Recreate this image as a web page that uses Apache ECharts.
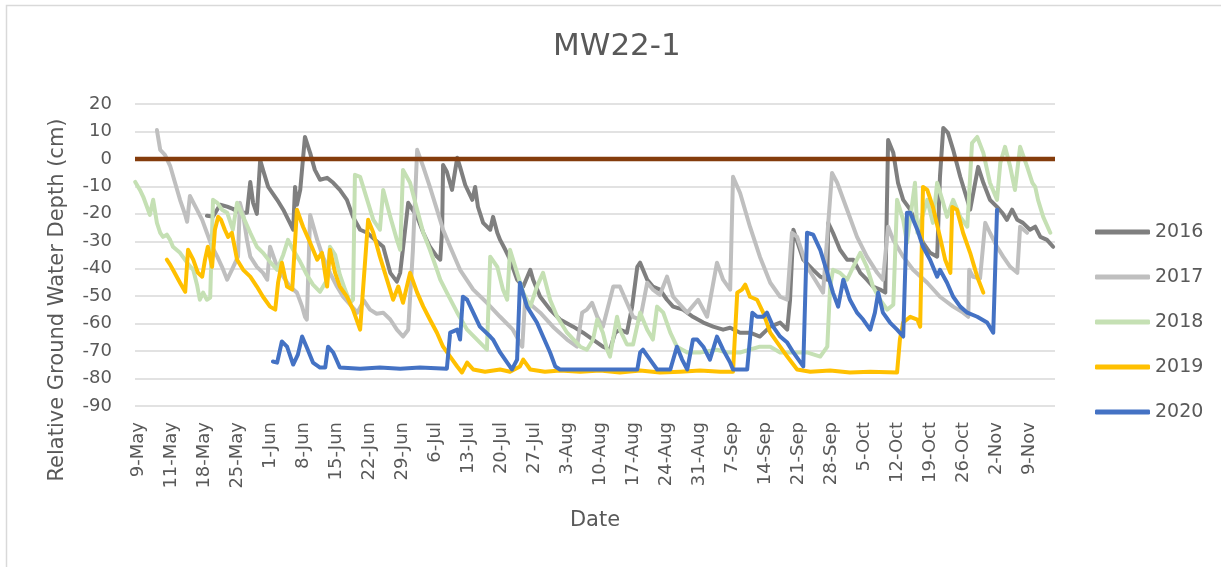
<!DOCTYPE html>
<html>
<head>
<meta charset="utf-8">
<title>MW22-1</title>
<script src="https://cdn.jsdelivr.net/npm/echarts@6/dist/echarts.min.js"></script>
<style>
  html, body { margin: 0; padding: 0; background: #ffffff; }
  #chart { width: 1221px; height: 567px; }
</style>
</head>
<body>
<div id="chart"></div>
<script>
// Weekly date labels along the x axis (one every 7 days, day 0 = first label)
const xLabels = ['9-May', '11-May', '18-May', '25-May', '1-Jun', '8-Jun', '15-Jun', '22-Jun', '29-Jun',
  '6-Jul', '13-Jul', '20-Jul', '27-Jul', '3-Aug', '10-Aug', '17-Aug', '24-Aug', '31-Aug',
  '7-Sep', '14-Sep', '21-Sep', '28-Sep', '5-Oct', '12-Oct', '19-Oct', '26-Oct', '2-Nov', '9-Nov'];

// Relative ground water depth (cm), as [day, depth] pairs
const y2016 = [[14.5,-20.7],[15.8,-21],[17.3,-16.7],[18.8,-17.4],[20,-18.2],[21.5,-19.6],[23,-19.6],[23.7,-8.4],[24.3,-16],[25.1,-20],[25.8,-0.4],[26.4,-4],[27.5,-10.2],[29.4,-14.9],[30.7,-18.5],[32.1,-23.3],[32.8,-25.8],[33.2,-10.2],[33.6,-16.7],[34.3,-11.3],[35.3,8],[36.4,2.2],[37.4,-4],[38.5,-7.6],[40,-6.9],[41.3,-8.7],[42.7,-11.3],[44.2,-14.9],[45.5,-21.1],[47,-25.8],[48.5,-26.9],[50.2,-29.5],[51.9,-32],[53.4,-41.5],[54.8,-44.7],[55.5,-41.5],[57.2,-16],[59.1,-21.1],[60.4,-26.9],[61.8,-32],[63.3,-35.6],[64,-36.7],[64.4,-25.8],[64.6,-2.2],[65.4,-4.7],[66.5,-11.3],[67.6,0.4],[68.2,-2.9],[69.3,-9.5],[70.8,-14.9],[71.4,-10.2],[72,-17.5],[73.1,-23.3],[74.6,-25.8],[75.2,-21.1],[76.1,-26.9],[76.7,-29.5],[77.8,-33.1],[78.8,-36.7],[80.3,-44],[81.6,-46.5],[83.1,-40.4],[83.7,-44],[85.2,-50.2],[87.3,-54.9],[89.4,-58.5],[92.2,-61.1],[94.3,-63.3],[96.4,-65.8],[98.5,-68.4],[100,-69.5],[101.1,-63.3],[102.1,-62.2],[103.6,-63.3],[104.7,-53.8],[105.8,-39.3],[106.4,-37.8],[107.9,-44],[109.1,-46.5],[110.6,-47.6],[112.1,-51.3],[113.4,-53.8],[115.5,-54.9],[117.6,-57.5],[119.8,-59.6],[121.9,-61.1],[124,-62.2],[125.5,-61.5],[127.6,-63.3],[129.7,-63.3],[131.8,-64.7],[134,-61.1],[136.1,-59.6],[137.6,-62.2],[138.2,-51.3],[138.9,-25.8],[141,-36.7],[143.1,-40.4],[144.6,-42.9],[146.1,-44],[146.3,-23.3],[147.3,-26.9],[148.8,-33.1],[150.3,-36.7],[151.6,-36.7],[153.1,-41.5],[154.5,-44],[155.8,-46.5],[157.3,-47.6],[158.4,-48.7],[159,6.9],[160.1,2.2],[161.1,-8.7],[162.2,-14.9],[163.7,-18.5],[165.2,-24.7],[166.4,-30.5],[167.9,-34.2],[169.4,-35.6],[170,-6.5],[170.7,11.3],[171.7,9.5],[172.8,3.3],[174.3,-6.5],[175.8,-14.9],[176.4,-18.5],[178.1,-2.9],[179.2,-8.7],[180.6,-14.9],[182.1,-17.5],[183.2,-19.6],[184.2,-22.2],[185.3,-18.5],[186.4,-22.2],[187.6,-23.3],[189.1,-25.8],[190.2,-24.7],[191.3,-28.4],[192.7,-29.5],[194,-32]];

const y2017 = [[3.9,10.5],[4.6,3.3],[5.6,1.5],[6.7,-2.5],[7.7,-8.4],[8.8,-14.9],[9.9,-20.4],[10.3,-22.9],[10.9,-13.5],[12.4,-18.5],[13.5,-22.2],[14.5,-26.9],[15.6,-32],[16.7,-35.6],[17.7,-39.3],[18.8,-44],[19.8,-40.4],[21.1,-35.6],[21.5,-16],[22.2,-20.4],[23,-29.5],[23.7,-35.6],[25.1,-39.3],[26.4,-41.5],[27.3,-44],[27.9,-32],[29.4,-39.3],[30.7,-42.9],[32.1,-46.5],[33.6,-48.7],[34.7,-53.8],[35.3,-57.5],[35.7,-58.5],[36.4,-20.4],[37.9,-29.5],[39.1,-35.6],[40.6,-41.5],[42.1,-46.5],[43.4,-50.2],[44.9,-53.1],[46.4,-56],[47.8,-51.6],[49.1,-54.9],[50.5,-56.4],[51.9,-56],[53.4,-58.5],[54.8,-62.2],[56.1,-64.7],[57.2,-62.2],[58.2,-33.1],[59.1,3.3],[60.4,-2.9],[61.8,-10.2],[63.3,-18.5],[64.6,-25.8],[66.1,-32],[68.2,-40.4],[71,-47.6],[73.9,-52.4],[76.7,-57.5],[79.4,-62.2],[81.4,-68.4],[82,-51.3],[82.4,-51.3],[85.2,-56],[87.9,-61.1],[90.9,-65.8],[93,-68.4],[94.1,-56],[95.1,-54.9],[96.2,-52.4],[97.3,-57.5],[98.5,-61.1],[100.7,-46.5],[102.1,-46.5],[103.6,-52.4],[104.9,-57.5],[106.4,-58.5],[107.9,-45.1],[109.1,-47.6],[110.6,-49.5],[112.1,-42.9],[113.4,-50.2],[116.4,-56],[118.7,-51.3],[120.6,-57.5],[122.7,-37.8],[124,-44],[125.5,-47.6],[126.1,-6.5],[127.6,-12.4],[129.7,-24.7],[131.8,-35.6],[134,-45.1],[136.1,-50.2],[137.6,-51.3],[138.6,-26.9],[139.7,-28.4],[141.8,-39.3],[143.9,-45.1],[145.2,-48.7],[147.1,-5.1],[148.2,-8.7],[150.3,-18.5],[152.4,-28.4],[154.5,-35.6],[156.7,-41.5],[157.9,-44],[159,-24.7],[160.1,-29.5],[162.2,-35.6],[164.3,-40.4],[167.3,-45.1],[170,-50.2],[172.8,-53.8],[174.9,-56],[176,-57.5],[176.2,-40.4],[177,-42.9],[178.5,-43.5],[179.6,-23.3],[180.6,-26.9],[182.1,-32],[183.4,-35.6],[184.9,-39.3],[186.4,-41.5],[187,-24.7],[188.5,-26.9]];

const y2018 = [[-0.7,-8.4],[0.3,-11.3],[1,-13.8],[1.8,-17.5],[2.4,-20.4],[3.1,-14.9],[3.9,-23.3],[4.6,-26.9],[5.2,-28.4],[6,-27.6],[6.7,-29.5],[7.3,-32],[8.8,-34.2],[10.3,-37.8],[11.6,-40.4],[12.4,-45.8],[13,-51.3],[13.7,-48.7],[14.5,-51.3],[15.2,-50.5],[15.8,-14.9],[16.7,-16],[17.7,-18.5],[18.8,-19.6],[20,-25.8],[20.9,-16],[22.2,-21.1],[23.7,-26.9],[25.1,-32],[26.4,-34.2],[27.9,-37.5],[29.4,-40.4],[30.7,-34.9],[31.7,-29.5],[32.8,-33.1],[34.3,-37.5],[35.7,-42.2],[37,-45.8],[38.5,-48.4],[40,-44],[40.6,-32],[41.7,-34.9],[42.7,-42.2],[43.8,-47.6],[44.9,-52.4],[45.5,-51.3],[45.9,-5.8],[47,-6.5],[48.5,-14.9],[49.8,-22.2],[51.2,-25.8],[51.9,-11.3],[53.4,-21.1],[54.8,-29.5],[55.5,-33.1],[56.1,-4],[57.6,-8.7],[59.1,-18.5],[60.4,-26.9],[61.8,-33.1],[63.3,-40.4],[64,-44],[65.4,-48.7],[67.6,-56],[69.7,-62.2],[71.8,-65.8],[73.9,-69.5],[74.6,-35.6],[76.1,-39.3],[77.3,-47.6],[78.2,-51.3],[78.8,-33.1],[80.3,-41.5],[81.6,-48.7],[83.1,-53.8],[84.5,-46.5],[85.8,-41.5],[87.3,-51.3],[88.8,-57.5],[90.9,-63.3],[93.7,-68.4],[95.1,-69.5],[96.4,-65.8],[97.3,-58.5],[98.5,-63.3],[99.4,-69.5],[100,-72],[101.5,-57.5],[102.1,-62.2],[103.6,-67.6],[104.9,-67.6],[106.4,-56],[107.9,-62.2],[109.1,-65.8],[110,-53.8],[111.3,-56],[112.8,-63.3],[114.2,-68.4],[116.4,-70.5],[119.1,-70.5],[122.7,-69.5],[124.8,-70.5],[127.6,-70.5],[131.8,-68.4],[134,-68.4],[136.1,-70.5],[138.9,-70.5],[141.8,-70.5],[144.6,-72],[146.1,-68.4],[146.7,-46.5],[147.3,-40.4],[148.8,-41.5],[150.3,-44],[151.6,-39.3],[153.1,-34.2],[154.5,-39.3],[155.8,-46.5],[157.3,-51.3],[158.8,-54.9],[160.1,-53.1],[160.9,-14.9],[162.2,-22.2],[163,-30.5],[164.7,-8.7],[165.2,-26.9],[167.3,-14.9],[168.5,-23.3],[169.4,-8.7],[170.5,-14.9],[171.5,-21.1],[172.8,-14.9],[174.3,-21.1],[175.8,-24.7],[176.8,5.8],[177.9,8],[179.2,2.2],[180.6,-8.7],[182.1,-14.9],[182.8,-1.5],[183.8,4.4],[184.9,-2.9],[185.9,-11.3],[187,4.4],[188.5,-2.9],[189.6,-8.7],[190.2,-10.2],[190.8,-14.9],[191.9,-21.1],[193.4,-26.9]];

const y2019 = [[6,-36.7],[6.7,-38.5],[7.3,-40.4],[8.8,-45.1],[9.9,-48.4],[10.5,-33.1],[11.6,-36.7],[12.6,-41.5],[13.5,-42.9],[14.1,-36.7],[14.7,-32],[15.6,-39.3],[16.2,-25.8],[16.9,-21.1],[17.5,-22.2],[18.3,-25.8],[19,-28.4],[19.8,-26.9],[20.9,-36.7],[22.2,-40.4],[23.7,-42.9],[25.1,-46.5],[26.4,-50.2],[27.9,-53.8],[29,-54.9],[29.6,-45.1],[30.4,-37.8],[31.5,-46.5],[32.6,-47.6],[33.6,-18.5],[34.9,-24.7],[36.4,-30.5],[37.9,-36.7],[38.9,-34.2],[40,-46.5],[40.6,-33.1],[41.7,-41.5],[42.7,-46.5],[44.2,-50.2],[45.5,-54.9],[47,-62.2],[48.7,-22.2],[49.8,-26.9],[51.2,-35.6],[52.7,-44],[54,-51.3],[55.1,-46.5],[56.1,-52.4],[57.6,-41.5],[59.1,-48.7],[60.4,-53.8],[61.8,-58.5],[63.3,-63.3],[64.6,-68.4],[66.1,-72],[67.6,-75.6],[68.6,-77.8],[69.7,-74.2],[71,-76.7],[73.5,-77.5],[76.7,-76.7],[78.8,-77.5],[80.9,-75.6],[81.6,-73.1],[83.1,-76.7],[86.2,-77.5],[89.4,-77.1],[93.7,-77.5],[97.9,-77.1],[102.1,-77.8],[106.4,-77.1],[110.6,-77.8],[114.9,-77.5],[119.1,-77.1],[123.4,-77.5],[126.1,-77.5],[127,-48.7],[128,-47.6],[128.7,-45.8],[129.7,-50.2],[131.2,-51.3],[132.5,-56],[134,-63.3],[135.5,-66.9],[137.6,-72],[139.7,-76.7],[142.5,-77.5],[146.7,-77.1],[150.9,-77.8],[155.2,-77.5],[160.9,-77.8],[161.5,-65.8],[162.2,-59.6],[163.7,-57.5],[165.2,-58.5],[165.8,-61.1],[166.4,-10.2],[167.3,-11.3],[168.5,-17.5],[170,-28.4],[171.1,-36.7],[172.2,-41.5],[172.6,-17.5],[173.6,-18.5],[174.9,-26.9],[176.4,-34.2],[177.9,-42.9],[179.2,-48.7]];

const y2020 = [[28.5,-73.8],[29.4,-74.2],[30.4,-66.5],[31.5,-68.4],[32.8,-74.9],[33.8,-71.3],[34.7,-64.7],[35.7,-68.7],[37,-74.2],[38.5,-76],[39.6,-76],[40.2,-68.4],[41.3,-70.5],[42.7,-76],[47,-76.4],[51.2,-76],[55.5,-76.4],[59.7,-76],[65.4,-76.4],[66.1,-63.3],[67.6,-62.2],[68.2,-65.8],[68.8,-50.2],[69.7,-51.3],[71,-56],[72.4,-61.1],[74.6,-64.7],[75.2,-65.8],[76.7,-70.5],[78.2,-74.2],[79.2,-76.7],[80.3,-73.1],[80.9,-45.1],[82.4,-53.8],[84.5,-59.6],[85.8,-64.7],[87.3,-70.5],[88.4,-75.6],[89.4,-76.7],[97.9,-76.7],[105.8,-76.7],[106.4,-70.5],[107,-69.5],[108.5,-73.1],[110,-76.7],[112.8,-76.7],[114.2,-68.4],[115.3,-73.1],[116.4,-76.7],[117.6,-65.8],[118.5,-65.8],[119.8,-68.4],[121.2,-73.1],[122.7,-64.7],[124,-69.5],[125.5,-74.2],[126.1,-76.7],[129.1,-76.7],[130.2,-56],[131.2,-57.5],[132.5,-57.5],[133.3,-56],[134.6,-61.1],[136.1,-64.7],[137.6,-66.9],[138.9,-70.5],[141,-75.6],[141.8,-26.9],[143.1,-27.6],[144.6,-33.1],[146.1,-41.5],[147.3,-48.7],[148.4,-53.8],[149.5,-44],[150.9,-51.3],[152.4,-56],[153.7,-58.5],[155.2,-62.2],[156.2,-56],[156.9,-48.7],[157.9,-56],[159.4,-59.6],[160.9,-62.2],[162.2,-64.7],[163,-19.6],[163.7,-19.6],[165.2,-25.8],[166.4,-32],[167.9,-36.7],[169.4,-42.9],[170,-40.4],[171.5,-45.1],[172.8,-50.2],[174.3,-53.8],[175.8,-56],[177.9,-57.5],[180,-59.6],[181.3,-63.3],[182.1,-18.5]];

// Ground surface reference (0 cm)
const groundLevel = 0;

const yearNames = ['2016', '2017', '2018', '2019', '2020'];
const yearData = [y2016, y2017, y2018, y2019, y2020];
const yearColors = ['#7f7f7f', '#bfbfbf', '#c5e0b4', '#ffc000', '#4472c4'];

const X_MIN = -0.75, X_MAX = 194.4;
const FONT = '"DejaVu Sans", sans-serif';
const TEXT = '#595959';

const chart = echarts.init(document.getElementById('chart'), null, { renderer: 'canvas' });

const lineSeries = yearNames.map((name, i) => ({
  name: name,
  type: 'line',
  data: yearData[i],
  showSymbol: false,
  symbol: 'none',
  color: yearColors[i],
  lineStyle: { width: 4, color: yearColors[i], cap: 'round', join: 'round' },
  z: 2 + i,
  animation: false
}));

lineSeries.push({
  name: 'Ground surface',
  type: 'line',
  data: [[X_MIN, groundLevel], [X_MAX, groundLevel]],
  showSymbol: false,
  symbol: 'none',
  lineStyle: { width: 4.5, color: '#843c0c' },
  z: 10,
  silent: true,
  animation: false
});

chart.setOption({
  animation: false,
  backgroundColor: '#ffffff',
  textStyle: { fontFamily: FONT },
  title: {
    text: 'MW22-1',
    left: 553,
    top: 31,
    padding: 0,
    textStyle: { fontFamily: FONT, fontSize: 31, fontWeight: 'normal', color: TEXT }
  },
  grid: { left: 135, right: 166, top: 104, bottom: 161, containLabel: false },
  legend: {
    data: yearNames,
    orient: 'vertical',
    left: 1095,
    top: 222,
    padding: 0,
    itemWidth: 55,
    itemHeight: 5,
    itemGap: 25,
    icon: 'roundRect',
    textStyle: { fontFamily: FONT, fontSize: 19, color: TEXT, lineHeight: 20 }
  },
  xAxis: {
    type: 'value',
    min: X_MIN,
    max: X_MAX,
    name: 'Date',
    nameLocation: 'middle',
    nameGap: 104,
    nameTextStyle: { fontFamily: FONT, fontSize: 21, color: TEXT },
    axisLine: { show: false },
    axisTick: { show: false },
    splitLine: { show: false },
    axisLabel: {
      customValues: xLabels.map((_, i) => i * 7),
      rotate: 90,
      margin: 16,
      fontFamily: FONT,
      fontSize: 18,
      color: TEXT,
      formatter: v => xLabels[Math.round(v / 7)] || ''
    }
  },
  yAxis: {
    type: 'value',
    min: -90,
    max: 20,
    interval: 10,
    axisLine: { show: false },
    axisTick: { show: false },
    splitLine: { lineStyle: { color: '#d9d9d9', width: 1.5 } },
    axisLabel: { margin: 23, fontFamily: FONT, fontSize: 18, color: TEXT }
  },
  graphic: [
    {
      type: 'rect',
      shape: { x: 6.5, y: 5.5, width: 1400, height: 800 },
      style: { fill: 'none', stroke: '#d9d9d9', lineWidth: 1.5 },
      silent: true,
      z: -10
    },
    {
      type: 'text',
      x: 968,
      y: 4,
      style: {
        text: '{a|McCallum} {b|Environmental Ltd.}',
        textVerticalAlign: 'bottom',
        rich: {
          a: { fontFamily: FONT, fontSize: 19, fill: '#9dc3e6' },
          b: { fontFamily: FONT, fontSize: 19, fill: '#a6a6a6' }
        }
      },
      silent: true
    },
    {
      type: 'text',
      x: 58,
      y: 300,
      rotation: Math.PI / 2,
      style: {
        text: 'Relative Ground Water Depth (cm)',
        fontFamily: FONT,
        fontSize: 21,
        fill: TEXT,
        textAlign: 'center',
        textVerticalAlign: 'middle'
      },
      silent: true
    }
  ],
  series: lineSeries
});
</script>
</body>
</html>
